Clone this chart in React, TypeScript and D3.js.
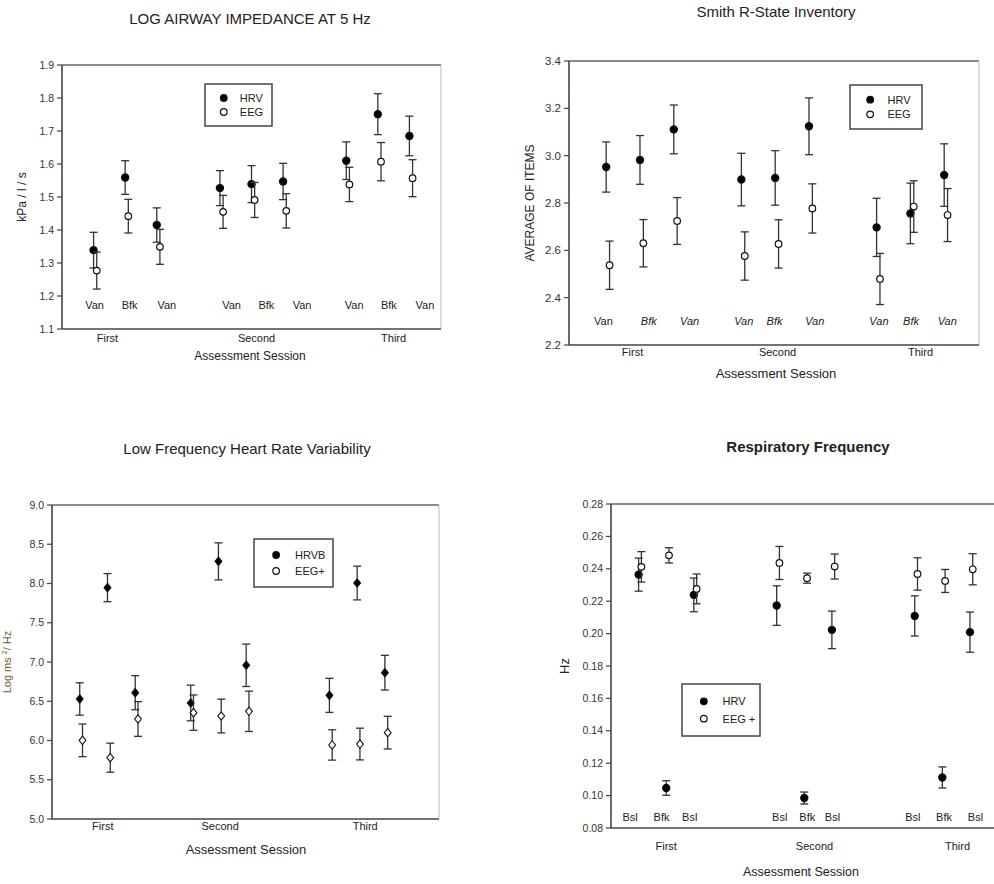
import React from "react";
import * as d3 from "d3";

// sessions and conditions
const sessions = ["First", "Second", "Third"];
const vanBfk = ["Van", "Bfk", "Van", "Van", "Bfk", "Van", "Van", "Bfk", "Van"];
const bslBfk = ["Bsl", "Bfk", "Bsl", "Bsl", "Bfk", "Bsl", "Bsl", "Bfk", "Bsl"];

// x slot of each condition (chart units)
const slotsA = [1, 2, 3, 5, 6, 7, 9, 10, 11];
const slotsC = [1, 2, 3, 5, 6, 7, 10, 11, 12];
const slotsD = [1, 2, 3, 6, 7, 8, 11, 12, 13];

// log airway impedance at 5 Hz
const airwayHrv = [1.339, 1.559, 1.415, 1.527, 1.539, 1.547, 1.61, 1.751, 1.685];
const airwayHrvErr = [0.054, 0.051, 0.052, 0.053, 0.056, 0.055, 0.057, 0.062, 0.06];
const airwayEeg = [1.277, 1.442, 1.349, 1.455, 1.491, 1.458, 1.538, 1.607, 1.557];
const airwayEegErr = [0.056, 0.051, 0.053, 0.05, 0.053, 0.052, 0.052, 0.058, 0.056];

// smith r-state inventory
const smithHrv = [2.952, 2.982, 3.111, 2.899, 2.906, 3.124, 2.697, 2.756, 2.918];
const smithHrvErr = [0.106, 0.103, 0.103, 0.111, 0.115, 0.12, 0.123, 0.128, 0.132];
const smithEeg = [2.537, 2.63, 2.724, 2.576, 2.627, 2.777, 2.479, 2.785, 2.749];
const smithEegErr = [0.102, 0.1, 0.099, 0.102, 0.102, 0.104, 0.108, 0.109, 0.112];

// low frequency HRV
const lfHrvb = [6.529, 7.947, 6.609, 6.478, 8.282, 6.958, 6.575, 8.006, 6.864];
const lfHrvbErr = [0.206, 0.179, 0.217, 0.227, 0.236, 0.27, 0.217, 0.215, 0.221];
const lfEeg = [6.002, 5.781, 6.274, 6.355, 6.312, 6.372, 5.943, 5.955, 6.1];
const lfEegErr = [0.208, 0.185, 0.221, 0.225, 0.215, 0.257, 0.193, 0.202, 0.208];

// respiratory frequency
const respHrv = [0.2364, 0.1047, 0.2239, 0.2173, 0.0985, 0.2023, 0.2109, 0.1112, 0.2009];
const respHrvErr = [0.0102, 0.0045, 0.0104, 0.0122, 0.0037, 0.0116, 0.0124, 0.0065, 0.0124];
const respEeg = [0.2412, 0.2483, 0.2276, 0.2436, 0.2342, 0.2414, 0.2368, 0.2325, 0.2397];
const respEegErr = [0.0094, 0.0047, 0.0092, 0.0102, 0.0031, 0.0077, 0.01, 0.0071, 0.0096];

const FONT = "Liberation Sans, Arial, Helvetica, sans-serif";
const INK = "#333";

type Series = { values: number[]; errs: number[] };

type PanelProps = {
  title: string;
  titleBold?: boolean;
  titleY: number;
  titleX: number;
  left: number;
  right: number;
  top: number;
  bottom: number;
  xDomain: [number, number];
  yDomain: [number, number];
  yTickCount: number;
  yFormat: string;
  tickFont: number;
  slots: number[];
  dx: number;
  a: Series;
  b: Series;
  shape: "circle" | "diamond";
  sessionPos: number[];
  sessionY: number;
  axisTitleY: number;
  axisTitleX: number;
  axisFont: number;
  yLabel: React.ReactNode;
  yLabelX: number;
  yLabelFont: number;
  yLabelColor?: string;
  conds?: string[];
  condPos?: number[];
  condY?: number;
  condItalicFrom?: number;
  legendNames: string[];
  legendBox: [number, number, number, number];
};

function Marker({ cx, cy, filled, shape }: { cx: number; cy: number; filled: boolean; shape: string }) {
  if (shape === "diamond") {
    const w = 3.4;
    const h = 4.2;
    const d = `M0,${-h}L${w},0L0,${h}L${-w},0Z`;
    return (
      <path d={d} transform={`translate(${cx},${cy})`} fill={filled ? "#000" : "#fff"} stroke="#111" strokeWidth={1.1} />
    );
  }
  return <circle cx={cx} cy={cy} r={filled ? 3.6 : 3.3} fill={filled ? "#000" : "#fff"} stroke="#111" strokeWidth={1.2} />;
}

function Panel(p: PanelProps) {
  const x = d3.scaleLinear().domain(p.xDomain).range([p.left, p.right]);
  const y = d3.scaleLinear().domain(p.yDomain).range([p.bottom, p.top]);
  const fmt = d3.format(p.yFormat);
  const ticks = y.ticks(p.yTickCount);
  const cap = 4;

  const drawSeries = (s: Series, off: number, filled: boolean, key: string) => (
    <g key={key}>
      {s.values.map((v, i) => {
        const cx = x(p.slots[i] + off);
        const y0 = y(v - s.errs[i]);
        const y1 = y(v + s.errs[i]);
        return (
          <g key={i} stroke={INK} strokeWidth={1.3}>
            <line x1={cx} x2={cx} y1={y0} y2={y1} />
            <line x1={cx - cap} x2={cx + cap} y1={y0} y2={y0} />
            <line x1={cx - cap} x2={cx + cap} y1={y1} y2={y1} />
          </g>
        );
      })}
      {s.values.map((v, i) => (
        <Marker key={"m" + i} cx={x(p.slots[i] + off)} cy={y(v)} filled={filled} shape={p.shape} />
      ))}
    </g>
  );

  const [lx0, ly0, lx1, ly1] = p.legendBox;
  const lh = (ly1 - ly0) / 3;

  return (
    <g fontFamily={FONT}>
      <text x={p.titleX} y={p.titleY} textAnchor="middle" fontSize={15} fontWeight={p.titleBold ? "bold" : "normal"} fill="#222">
        {p.title}
      </text>
      {/* frame */}
      <line x1={p.left} x2={p.right} y1={p.top} y2={p.top} stroke="#666" strokeWidth={1.3} />
      <line x1={p.right} x2={p.right} y1={p.top} y2={p.bottom} stroke="#bbb" strokeWidth={1} />
      <line x1={p.left} x2={p.left} y1={p.top} y2={p.bottom} stroke="#444" strokeWidth={1.6} />
      <line x1={p.left} x2={p.right} y1={p.bottom} y2={p.bottom} stroke="#444" strokeWidth={1.6} />
      {ticks.map((t) => (
        <g key={t}>
          <line x1={p.left - 5} x2={p.left} y1={y(t)} y2={y(t)} stroke="#444" strokeWidth={1.2} />
          <text x={p.left - 8} y={y(t) + p.tickFont * 0.35} textAnchor="end" fontSize={p.tickFont} fill="#333">
            {fmt(t)}
          </text>
        </g>
      ))}
      {p.sessionPos.map((s, i) => (
        <text key={i} x={x(s)} y={p.sessionY} textAnchor="middle" fontSize={11} fill="#222">
          {sessions[i]}
        </text>
      ))}
      <text x={p.axisTitleX} y={p.axisTitleY} textAnchor="middle" fontSize={p.axisFont} fill="#222">
        Assessment Session
      </text>
      <text
        transform={`translate(${p.yLabelX},${(p.top + p.bottom) / 2}) rotate(-90)`}
        textAnchor="middle"
        fontSize={p.yLabelFont}
        fill={p.yLabelColor || "#222"}
      >
        {p.yLabel}
      </text>
      {p.conds &&
        p.condPos &&
        p.conds.map((c, i) => (
          <text
            key={i}
            x={x(p.condPos![i])}
            y={p.condY}
            textAnchor="middle"
            fontSize={11}
            fill="#222"
            fontStyle={p.condItalicFrom !== undefined && i >= p.condItalicFrom ? "italic" : "normal"}
          >
            {c}
          </text>
        ))}
      {drawSeries(p.a, 0, true, "a")}
      {drawSeries(p.b, p.dx, false, "b")}
      {/* legend */}
      <rect x={lx0} y={ly0} width={lx1 - lx0} height={ly1 - ly0} fill="#fff" stroke="#444" strokeWidth={1.5} />
      {p.legendNames.map((n, i) => {
        const cy = ly0 + lh * (i + 1);
        return (
          <g key={n}>
            <circle cx={lx0 + (lx1 - lx0) * 0.28} cy={cy} r={3.3} fill={i === 0 ? "#000" : "#fff"} stroke="#111" strokeWidth={1.2} />
            <text x={lx0 + (lx1 - lx0) * 0.52} y={cy + 4} fontSize={11} fill="#222">
              {n}
            </text>
          </g>
        );
      })}
    </g>
  );
}

export default function App() {
  return (
    <svg
      width={994}
      height={884}
      viewBox="0 0 994 884"
      style={{ position: "absolute", left: 0, top: 0, background: "#fff" }}
    >
      <rect width={994} height={884} fill="#fff" />
      <Panel
        title="LOG AIRWAY IMPEDANCE AT 5 Hz"
        titleX={250}
        titleY={24}
        left={62}
        right={441}
        top={65}
        bottom={329}
        xDomain={[0, 12]}
        yDomain={[1.1, 1.9]}
        yTickCount={8}
        yFormat=".1f"
        tickFont={10.5}
        slots={slotsA}
        dx={0.1}
        a={{ values: airwayHrv, errs: airwayHrvErr }}
        b={{ values: airwayEeg, errs: airwayEegErr }}
        shape="circle"
        sessionPos={[1.44, 6.16, 10.5]}
        sessionY={342}
        axisTitleX={250}
        axisTitleY={360}
        axisFont={12}
        yLabel="kPa / l / s"
        yLabelX={26}
        yLabelFont={12}
        conds={vanBfk}
        condPos={[1.03, 2.14, 3.32, 5.37, 6.47, 7.6, 9.25, 10.35, 11.49]}
        condY={309}
        legendNames={["HRV", "EEG"]}
        legendBox={[205, 84, 272, 126]}
      />
      <Panel
        title="Smith R-State Inventory"
        titleX={776}
        titleY={17}
        left={569}
        right={979}
        top={61}
        bottom={345}
        xDomain={[-0.1, 12.03]}
        yDomain={[2.2, 3.4]}
        yTickCount={6}
        yFormat=".1f"
        tickFont={11.5}
        slots={slotsA}
        dx={0.1}
        a={{ values: smithHrv, errs: smithHrvErr }}
        b={{ values: smithEeg, errs: smithEegErr }}
        shape="circle"
        sessionPos={[1.78, 6.07, 10.3]}
        sessionY={356}
        axisTitleX={776}
        axisTitleY={378}
        axisFont={13}
        yLabel="AVERAGE OF ITEMS"
        yLabelX={534}
        yLabelFont={12}
        conds={vanBfk}
        condPos={[0.92, 2.26, 3.47, 5.07, 5.98, 7.17, 9.07, 10.02, 11.09]}
        condY={325}
        condItalicFrom={1}
        legendNames={["HRV", "EEG"]}
        legendBox={[850, 85, 922, 129]}
      />
      <Panel
        title="Low Frequency Heart Rate Variability"
        titleX={247}
        titleY={454}
        left={52}
        right={439}
        top={505}
        bottom={819}
        xDomain={[0, 13.95]}
        yDomain={[5, 9]}
        yTickCount={8}
        yFormat=".1f"
        tickFont={10.5}
        slots={slotsC}
        dx={0.1}
        a={{ values: lfHrvb, errs: lfHrvbErr }}
        b={{ values: lfEeg, errs: lfEegErr }}
        shape="diamond"
        sessionPos={[1.83, 6.06, 11.29]}
        sessionY={830}
        axisTitleX={246}
        axisTitleY={854}
        axisFont={13}
        yLabel={
          <>
            Log ms <tspan dy={-4} fontSize={7}>2</tspan>
            <tspan dy={4}>/ Hz</tspan>
          </>
        }
        yLabelX={11}
        yLabelFont={11}
        yLabelColor="#6b5a2e"
        legendNames={["HRVB", "EEG+"]}
        legendBox={[254, 539, 333, 587]}
      />
      <Panel
        title="Respiratory Frequency"
        titleBold
        titleX={808}
        titleY={452}
        left={611}
        right={1010}
        top={504}
        bottom={828}
        xDomain={[0, 14.45]}
        yDomain={[0.08, 0.28]}
        yTickCount={10}
        yFormat=".2f"
        tickFont={10.5}
        slots={slotsD}
        dx={0.1}
        a={{ values: respHrv, errs: respHrvErr }}
        b={{ values: respEeg, errs: respEegErr }}
        shape="circle"
        sessionPos={[2.0, 7.37, 12.55]}
        sessionY={850}
        axisTitleX={801}
        axisTitleY={876}
        axisFont={12.5}
        yLabel="Hz"
        yLabelX={569}
        yLabelFont={13}
        conds={bslBfk}
        condPos={[0.69, 1.83, 2.85, 6.11, 7.11, 8.02, 10.93, 12.06, 13.2]}
        condY={821}
        legendNames={["HRV", "EEG +"]}
        legendBox={[682, 684, 760, 736]}
      />
    </svg>
  );
}
